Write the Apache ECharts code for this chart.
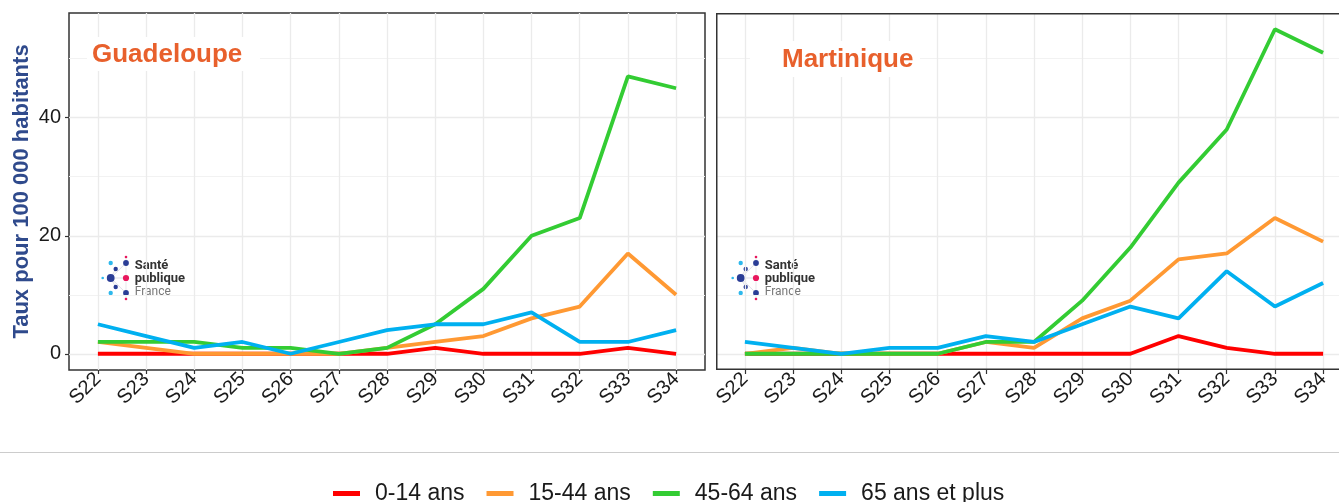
<!DOCTYPE html>
<html>
<head>
<meta charset="utf-8">
<script src="https://cdn.jsdelivr.net/npm/echarts@6/dist/echarts.min.js"></script>
<style>
html,body{margin:0;padding:0;background:#fff;overflow:hidden;width:1339px;height:502px;}
#chart{width:1400px;height:502px;}
</style>
</head>
<body>
<div id="chart"></div>
<script>
// ---- data ----
const weeks = ['S22','S23','S24','S25','S26','S27','S28','S29','S30','S31','S32','S33','S34'];
const seriesNames = ['0-14 ans','15-44 ans','45-64 ans','65 ans et plus'];
const yTickValues = [0, 20, 40];
const yMinorValues = [10, 30, 50];

const gua_0_14  = [0, 0, 0, 0, 0, 0, 0, 1, 0, 0, 0, 1, 0];
const gua_15_44 = [2, 1, 0, 0, 0, 0, 1, 2, 3, 6, 8, 17, 10];
const gua_45_64 = [2, 2, 2, 1, 1, 0, 1, 5, 11, 20, 23, 47, 45];
const gua_65    = [5, 3, 1, 2, 0, 2, 4, 5, 5, 7, 2, 2, 4];

const mar_0_14  = [0, 0, 0, 0, 0, 0, 0, 0, 0, 3, 1, 0, 0];
const mar_15_44 = [0, 1, 0, 0, 0, 2, 1, 6, 9, 16, 17, 23, 19];
const mar_45_64 = [0, 0, 0, 0, 0, 2, 2, 9, 18, 29, 38, 55, 51];
const mar_65    = [2, 1, 0, 1, 1, 3, 2, 5, 8, 6, 14, 8, 12];

const panelTitles = ['Guadeloupe', 'Martinique'];
const yTitle = 'Taux pour 100 000 habitants';

// ---- styling ----
const colors = ['#FF0000', '#FF9933', '#33CC33', '#00B0F0'];
const gridColor = '#EBEBEB';
const titleColor = '#E8602C';
const yMin = -2.75, yMax = 57.75;
const xMin = -0.6, xMax = 12.6;
const weekIdx = weeks.map((w, i) => i);

const chart = echarts.init(document.getElementById('chart'), null, {renderer: 'canvas'});

function xAxisFor(gi) {
  return {
    type: 'value', gridIndex: gi, min: xMin, max: xMax, position: 'bottom',
    axisLine: {show: false, onZero: false},
    axisTick: {show: true, customValues: weekIdx, length: 4, lineStyle: {color: '#333', width: 1.2}},
    axisLabel: {customValues: weekIdx, formatter: v => weeks[Math.round(v)], rotate: 45,
      fontSize: 20, color: '#1a1a1a', margin: 6, fontFamily: 'Liberation Sans, Arial'},
    splitLine: {show: true, lineStyle: {color: gridColor, width: 1.3}}
  };
}
function yAxisMain(gi, withLabels) {
  const a = {
    type: 'value', gridIndex: gi, min: yMin, max: yMax, position: 'left',
    axisLine: {show: false, onZero: false},
    axisTick: {show: withLabels, customValues: yTickValues, length: 4, lineStyle: {color: '#333', width: 1.2}},
    axisLabel: {show: withLabels, customValues: yTickValues, fontSize: 20, color: '#1a1a1a', margin: 8,
      fontFamily: 'Liberation Sans, Arial'},
    splitLine: {show: true, lineStyle: {color: gridColor, width: 1.3}}
  };
  if (withLabels) {
    a.name = yTitle;
    a.nameLocation = 'middle';
    a.nameRotate = 90;
    a.nameGap = 36;
    a.nameTextStyle = {fontSize: 22, fontWeight: 'bold', color: '#2F4A8C', fontFamily: 'Liberation Sans, Arial'};
  }
  return a;
}
function yAxisMinor(gi) {
  return {
    type: 'value', gridIndex: gi, min: yMin, max: yMax, position: 'left',
    axisLine: {show: false, onZero: false},
    axisTick: {show: false, customValues: yMinorValues},
    axisLabel: {show: false, customValues: yMinorValues},
    splitLine: {show: true, lineStyle: {color: '#F2F2F2', width: 1.2}}
  };
}

const panels = [
  [gua_0_14, gua_15_44, gua_45_64, gua_65],
  [mar_0_14, mar_15_44, mar_45_64, mar_65]
];
const series = [];
panels.forEach((vals, p) => {
  vals.forEach((arr, k) => {
    series.push({
      type: 'line', name: seriesNames[k],
      xAxisIndex: p, yAxisIndex: p * 2,
      data: arr.map((v, i) => [i, v]),
      symbol: 'none',
      lineStyle: {color: colors[k], width: 3.8},
      itemStyle: {color: colors[k]},
      z: 3 + k
    });
  });
});

function logo(ox, oy) {
  const dark = '#2A3D96', light = '#2DB8EC', pink = '#E8175D';
  const dots = [
    [15.3, -21, 1.3, pink], [0, -15, 2.2, light], [15.3, -15, 2.9, dark], [5, -9, 2.2, dark],
    [-8, 0, 1.3, light], [0, 0, 3.9, dark], [15.3, 0, 3.1, pink], [5, 9, 2.2, dark],
    [0, 15, 2.2, light], [15.3, 15, 2.9, dark], [15.3, 21, 1.3, pink]
  ];
  const children = [];
  [[15.3,0],[5,-9],[5,9],[15.3,-15],[15.3,15]].forEach(([x,y]) => {
    children.push({type: 'line', shape: {x1: 0, y1: 0, x2: x, y2: y}, style: {stroke: '#C9C9D6', lineWidth: 0.6}});
  });
  children.push({type: 'line', shape: {x1: 15.3, y1: -21, x2: 15.3, y2: 21}, style: {stroke: '#D8D8E0', lineWidth: 0.6}});
  dots.forEach(([x, y, r, c]) => children.push({type: 'circle', shape: {cx: x, cy: y, r: r}, style: {fill: c}}));
  children.push({type: 'text', style: {x: 24, y: -12, text: 'Santé', font: 'bold 13px Roboto, sans-serif', fill: '#333', textVerticalAlign: 'middle'}});
  children.push({type: 'text', style: {x: 24, y: 0.5, text: 'publique', font: 'bold 13px Roboto, sans-serif', fill: '#333', textVerticalAlign: 'middle'}});
  children.push({type: 'text', style: {x: 24, y: 14, text: 'France', font: '12px Roboto, sans-serif', fill: '#777', textVerticalAlign: 'middle'}});
  return {type: 'group', x: ox, y: oy, z: 50, children: children};
}

const option = {
  animation: false,
  backgroundColor: '#fff',
  grid: [
    {left: 69, top: 13, width: 636, height: 357, show: true, borderColor: '#333', borderWidth: 1.5, backgroundColor: 'transparent', containLabel: false},
    {left: 716, top: 13, width: 636, height: 357, show: false, containLabel: false}
  ],
  xAxis: [xAxisFor(0), xAxisFor(1)],
  yAxis: [yAxisMain(0, true), yAxisMinor(0), yAxisMain(1, false), yAxisMinor(1)],
  legend: {
    data: seriesNames, left: 328, top: 477,
    icon: 'rect', itemWidth: 27, itemHeight: 5, itemGap: 22,
    textStyle: {fontSize: 23, color: '#1a1a1a', fontFamily: 'Liberation Sans, Arial', padding: [0, 0, 0, 10]}
  },
  series: series,
  graphic: [
    {type: 'line', shape: {x1: 0, y1: 452.5, x2: 1400, y2: 452.5}, style: {stroke: '#CCCCCC', lineWidth: 1.2}, z: 1},
    {type: 'polyline', shape: {points: [[1400, 13.75], [716.75, 13.75], [716.75, 369.25], [1400, 369.25]]},
      style: {stroke: '#333', lineWidth: 1.5, fill: null}, z: 30},
    {type: 'rect', shape: {x: 87, y: 37, width: 173, height: 34}, style: {fill: '#fff'}, z: 40},
    {type: 'rect', shape: {x: 750, y: 41, width: 170, height: 36}, style: {fill: '#fff'}, z: 40},
    {type: 'text', style: {x: 92, y: 55, text: panelTitles[0], font: 'bold 26px Liberation Sans, Arial', fill: titleColor, textVerticalAlign: 'middle'}, z: 41},
    {type: 'text', style: {x: 782, y: 60, text: panelTitles[1], font: 'bold 26px Liberation Sans, Arial', fill: titleColor, textVerticalAlign: 'middle'}, z: 41},
    logo(110.7, 278),
    logo(740.7, 278)
  ]
};
chart.setOption(option);
</script>
</body>
</html>
